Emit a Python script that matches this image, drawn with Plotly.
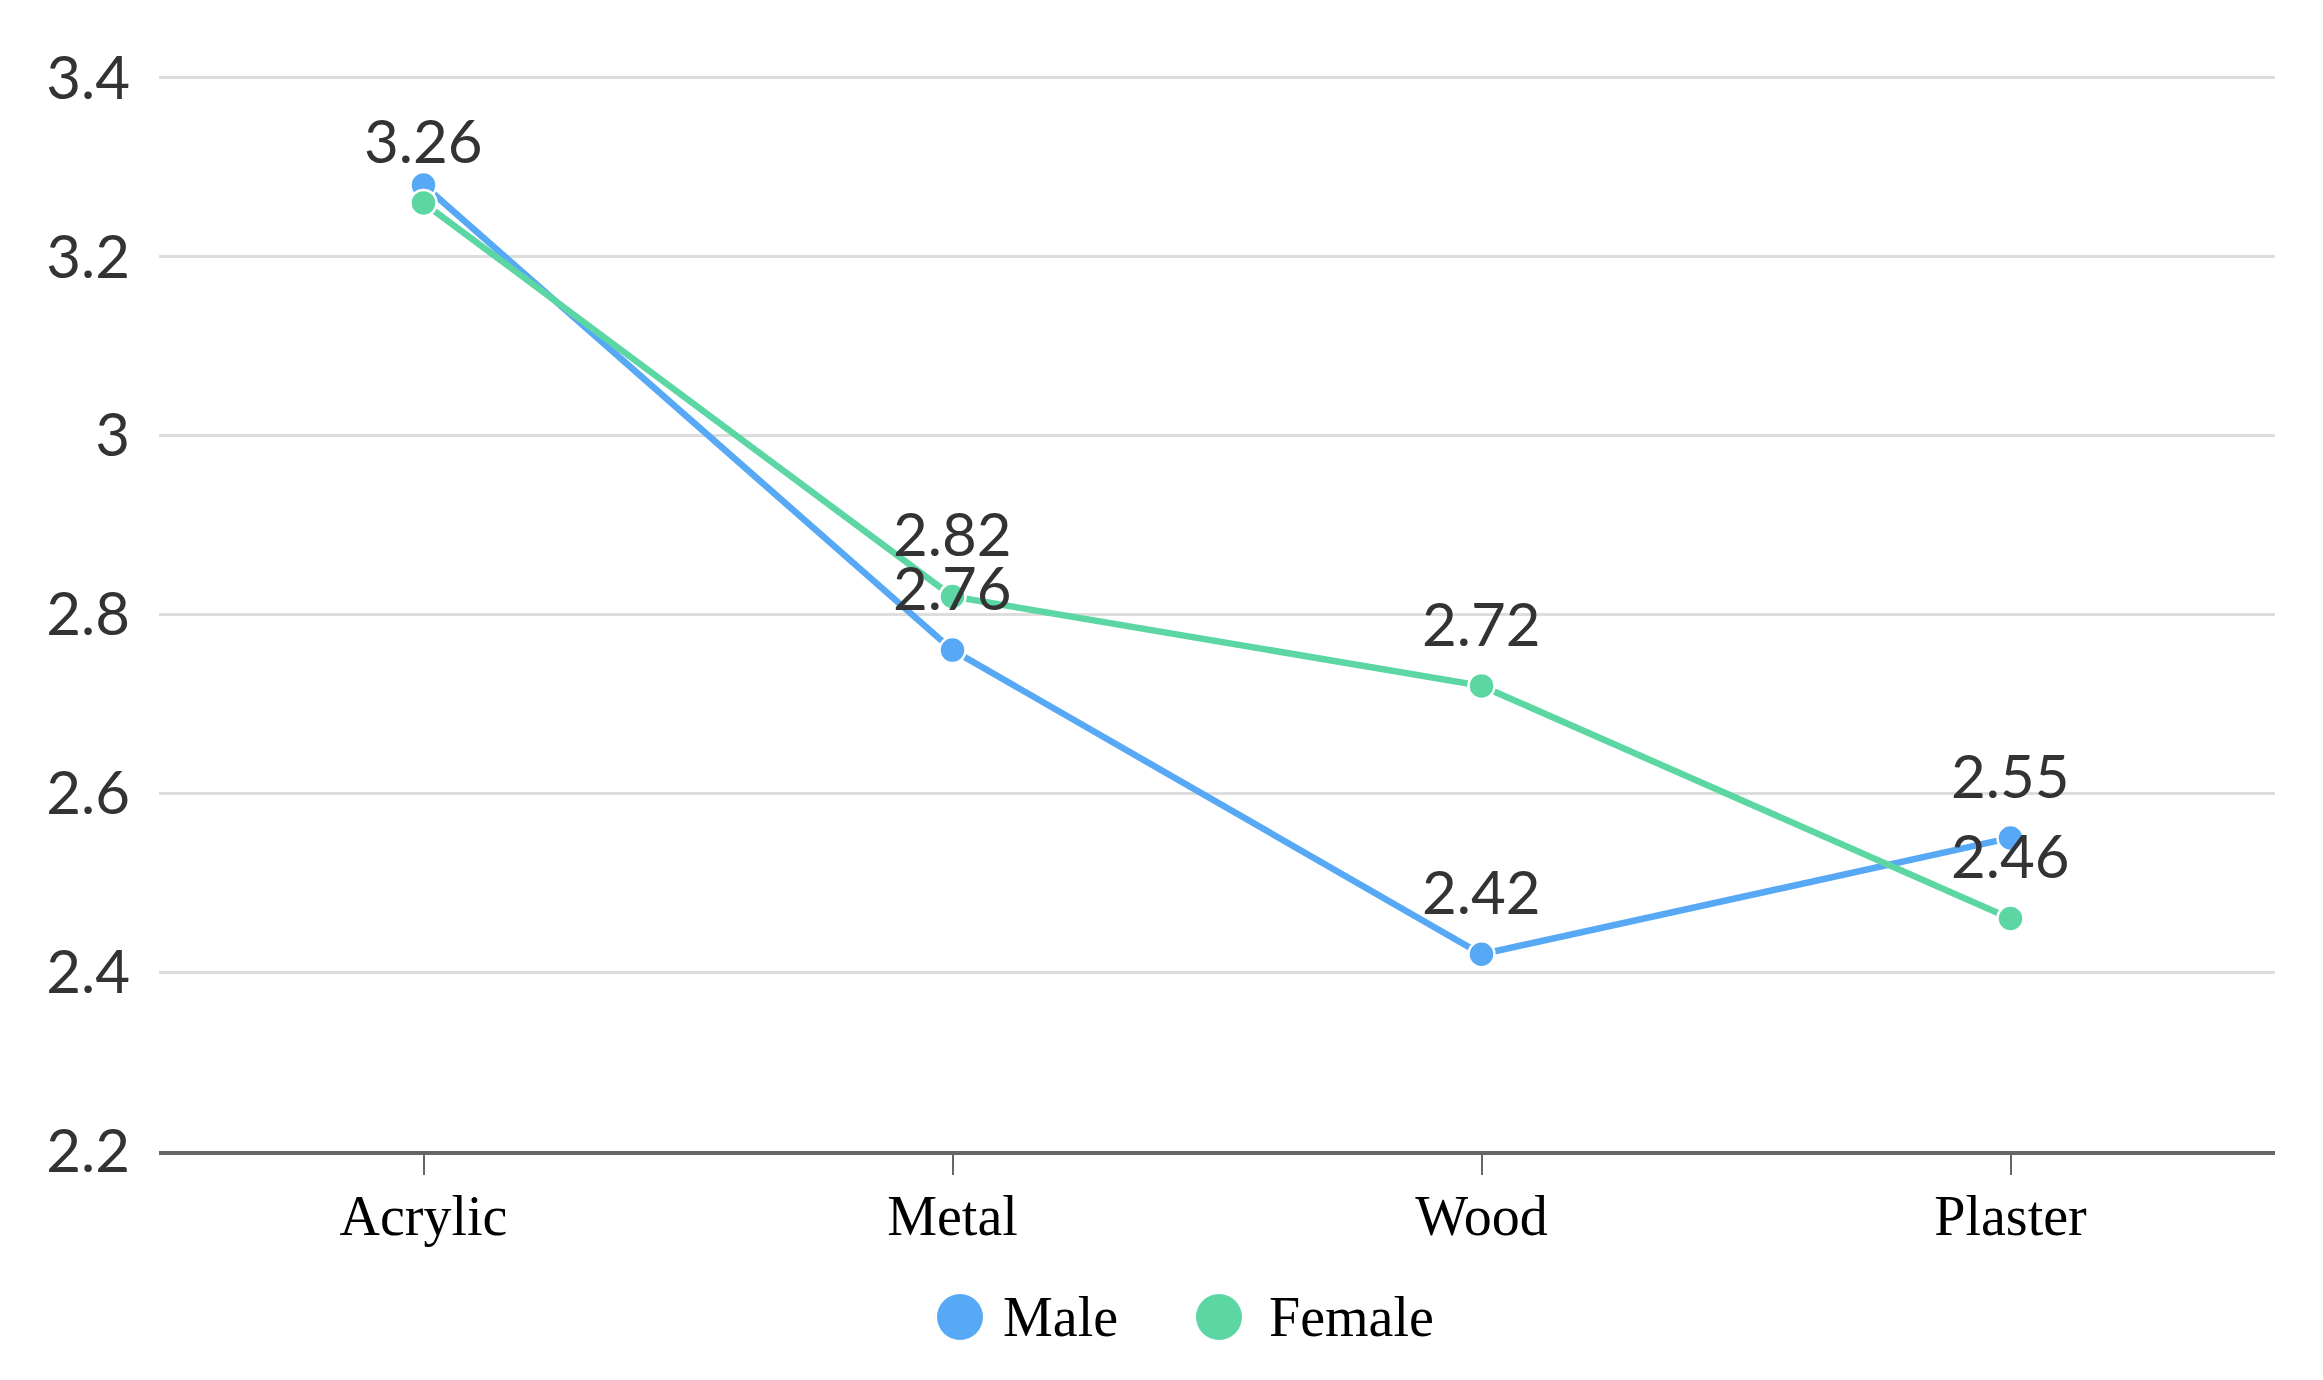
import plotly.graph_objects as go

categories = ["Acrylic", "Metal", "Wood", "Plaster"]
male = [3.28, 2.76, 2.42, 2.55]
female = [3.26, 2.82, 2.72, 2.46]
male_label_visible = [False, True, True, True]
female_label_visible = [True, True, True, True]
series_names = ["Male", "Female"]
y_ticks = [2.2, 2.4, 2.6, 2.8, 3.0, 3.2, 3.4]
y_tick_labels = ["2.2", "2.4", "2.6", "2.8", "3", "3.2", "3.4"]
colors = ["#58A9F5", "#5CD6A3"]

W, H = 2323, 1380
ML, MR, MT, MB = 151, 56, 67, 237

series = [
    (series_names[0], male, male_label_visible, colors[0]),
    (series_names[1], female, female_label_visible, colors[1]),
]

fig = go.Figure()
for name, vals, vis, col in series:
    fig.add_trace(go.Scatter(
        x=categories, y=vals, name=name,
        mode="lines+markers",
        line=dict(color=col, width=6.5),
        marker=dict(size=26, color=col, line=dict(color="white", width=2.5)),
        showlegend=False, cliponaxis=False,
    ))

# value labels above points
for name, vals, vis, col in series:
    for c, v, s in zip(categories, vals, vis):
        if s:
            fig.add_annotation(x=c, y=v, text=f"{v:.2f}", showarrow=False,
                               yshift=63, xanchor="center", yanchor="middle",
                               font=dict(family="Lato", size=60, color="#333333"))

# custom legend (large circle symbols)
pw = W - ML - MR
ph = H - MT - MB
leg_py = 1309
leg_y = (H - MB - leg_py) / ph
leg_items = [(series_names[0], colors[0], 952, 993), (series_names[1], colors[1], 1211, 1259)]
for name, col, cx, tx in leg_items:
    fig.add_shape(type="circle", xref="paper", yref="paper",
                  xsizemode="pixel", ysizemode="pixel",
                  xanchor=(cx - ML) / pw, yanchor=leg_y,
                  x0=-23, x1=23, y0=-23, y1=23,
                  fillcolor=col, line=dict(width=0))
    fig.add_annotation(text=name, xref="paper", yref="paper",
                       x=(tx - ML) / pw, y=leg_y, xanchor="left", yanchor="middle",
                       showarrow=False,
                       font=dict(family="Liberation Serif", size=56, color="#000000"))

fig.update_layout(
    width=W, height=H,
    margin=dict(l=ML, r=MR, t=MT, b=MB),
    paper_bgcolor="white", plot_bgcolor="white",
    showlegend=False,
)
fig.update_xaxes(
    type="category", range=[-0.5, 3.5],
    showgrid=False, showline=True, linecolor="#666666", linewidth=4,
    ticks="outside", ticklen=20, tickwidth=2, tickcolor="#666666",
    tickfont=dict(family="Liberation Serif", size=56, color="#000000"),
    ticklabelstandoff=-7,
    zeroline=False,
)
fig.update_yaxes(
    range=[2.2, 3.403], tickvals=y_ticks, ticktext=y_tick_labels,
    showgrid=True, gridcolor="#DDDDDD", gridwidth=3,
    showline=False, zeroline=False, ticks="",
    ticklabelstandoff=28,
    tickfont=dict(family="Lato", size=60, color="#333333"),
)

fig.write_html("out.html")
